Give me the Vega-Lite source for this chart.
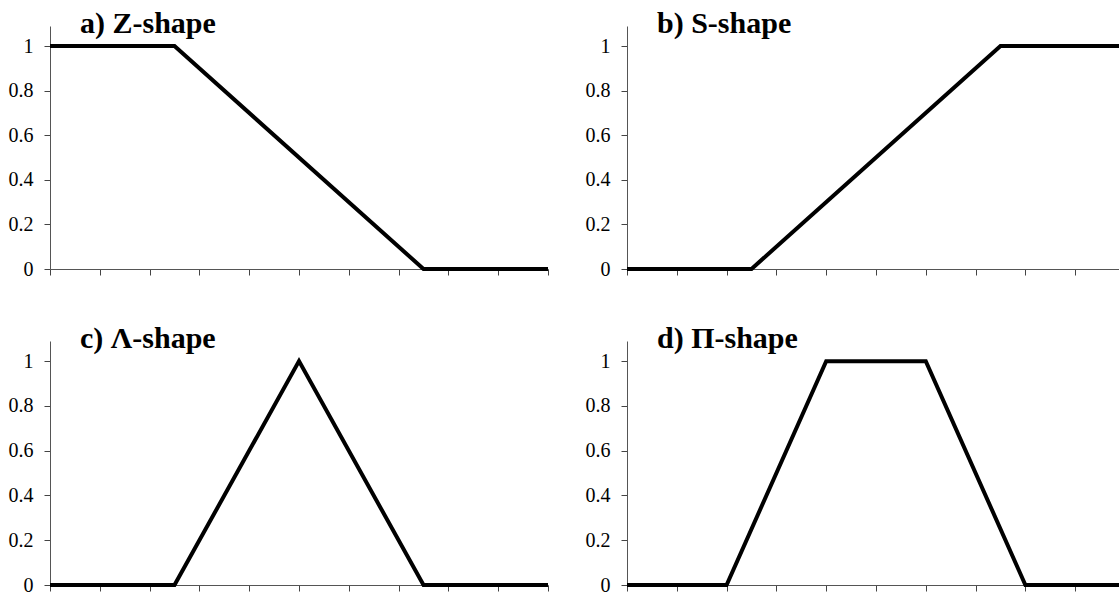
{
  "$schema": "https://vega.github.io/schema/vega-lite/v6.json",
  "background": "white",
  "padding": {"left": 8, "top": 9, "right": 0, "bottom": 3},
  "datasets": {
    "z": [{"x": 0, "y": 1}, {"x": 2.5, "y": 1}, {"x": 7.5, "y": 0}, {"x": 10, "y": 0}],
    "s": [{"x": 0, "y": 0}, {"x": 2.5, "y": 0}, {"x": 7.5, "y": 1}, {"x": 10, "y": 1}],
    "lambda": [{"x": 0, "y": 0}, {"x": 2.5, "y": 0}, {"x": 5, "y": 1}, {"x": 7.5, "y": 0}, {"x": 10, "y": 0}],
    "pi": [{"x": 0, "y": 0}, {"x": 2, "y": 0}, {"x": 4, "y": 1}, {"x": 6, "y": 1}, {"x": 8, "y": 0}, {"x": 10, "y": 0}]
  },
  "config": {
    "view": {"stroke": null},
    "axis": {
      "grid": false,
      "title": null,
      "labelFont": "Liberation Serif",
      "labelFontSize": 20,
      "labelColor": "black",
      "domainColor": "#555",
      "tickColor": "#444",
      "tickSize": 6,
      "labelPadding": 11
    },
    "axisY": {"labelFont": "Liberation Serif", "labelFontSize": 20},
    "title": {
      "font": "Liberation Serif",
      "fontSize": 30,
      "fontWeight": "bold",
      "color": "black",
      "anchor": "start",
      "frame": "group",
      "baseline": "alphabetic",
      "dx": 30,
      "offset": 0,
      "dy": 17
    },
    "line": {"color": "black", "strokeWidth": 4, "clip": true}
  },
  "bounds": "flush",
  "columns": 2,
  "spacing": {"row": 72, "column": 79},
  "concat": [
    {
      "title": "a) Z-shape",
      "width": 498, "height": 243,
      "data": {"name": "z"},
      "mark": {"type": "line"},
      "encoding": {
        "x": {"field": "x", "type": "quantitative", "scale": {"domain": [0, 10], "nice": false}, "axis": {"values": [0,1,2,3,4,5,6,7,8,9,10], "labels": false}},
        "y": {"field": "y", "type": "quantitative", "scale": {"domain": [0, 1.09], "nice": false}, "axis": {"values": [0, 0.2, 0.4, 0.6, 0.8, 1], "labelExpr": "'' + datum.value", "labelFont": "Liberation Serif"}}
      }
    },
    {
      "title": "b) S-shape",
      "width": 492, "height": 243,
      "data": {"name": "s"},
      "mark": {"type": "line"},
      "encoding": {
        "x": {"field": "x", "type": "quantitative", "scale": {"domain": [0, 9.88], "nice": false}, "axis": {"values": [0,1,2,3,4,5,6,7,8,9], "labels": false}},
        "y": {"field": "y", "type": "quantitative", "scale": {"domain": [0, 1.09], "nice": false}, "axis": {"values": [0, 0.2, 0.4, 0.6, 0.8, 1], "labelExpr": "'' + datum.value", "labelFont": "Liberation Serif"}}
      }
    },
    {
      "title": "c) Λ-shape",
      "width": 498, "height": 244,
      "data": {"name": "lambda"},
      "mark": {"type": "line"},
      "encoding": {
        "x": {"field": "x", "type": "quantitative", "scale": {"domain": [0, 10], "nice": false}, "axis": {"values": [0,1,2,3,4,5,6,7,8,9,10], "labels": false}},
        "y": {"field": "y", "type": "quantitative", "scale": {"domain": [0, 1.09], "nice": false}, "axis": {"values": [0, 0.2, 0.4, 0.6, 0.8, 1], "labelExpr": "'' + datum.value", "labelFont": "Liberation Serif"}}
      }
    },
    {
      "title": "d) Π-shape",
      "width": 492, "height": 244,
      "data": {"name": "pi"},
      "mark": {"type": "line"},
      "encoding": {
        "x": {"field": "x", "type": "quantitative", "scale": {"domain": [0, 9.88], "nice": false}, "axis": {"values": [0,1,2,3,4,5,6,7,8,9], "labels": false}},
        "y": {"field": "y", "type": "quantitative", "scale": {"domain": [0, 1.09], "nice": false}, "axis": {"values": [0, 0.2, 0.4, 0.6, 0.8, 1], "labelExpr": "'' + datum.value", "labelFont": "Liberation Serif"}}
      }
    }
  ]
}
